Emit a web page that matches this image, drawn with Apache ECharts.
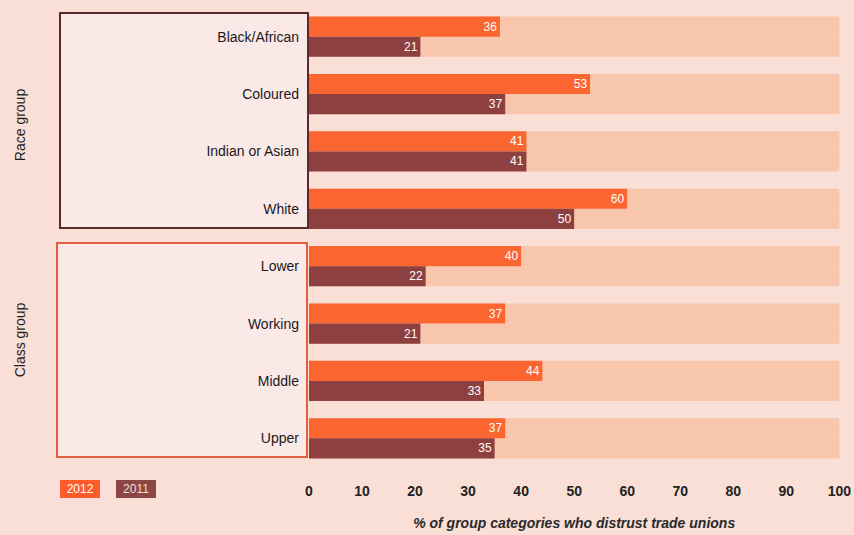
<!DOCTYPE html>
<html>
<head>
<meta charset="utf-8">
<script src="https://cdn.jsdelivr.net/npm/echarts@6/dist/echarts.min.js"></script>
<style>
html,body{margin:0;padding:0;background:#f9dfd6;}
#c{width:854px;height:535px;}
</style>
</head>
<body>
<div id="c"></div>
<script>
const categories = ['Black/African','Coloured','Indian or Asian','White','Lower','Working','Middle','Upper'];
const values2012 = [36, 53, 41, 60, 40, 37, 44, 37];
const values2011 = [21, 37, 41, 50, 22, 21, 33, 35];
const xTicks = [0,10,20,30,40,50,60,70,80,90,100];
const groupNames = ['Race group','Class group'];
const seriesNames = ['2012','2011'];

const FONT = "'Liberation Sans Narrow','Liberation Sans',Arial,sans-serif";
const chart = echarts.init(document.getElementById('c'), null, {renderer:'svg'});

const labelCfg = {
  show:true, position:'insideRight', distance:3,
  color:'#ffffff', fontSize:12, fontFamily:FONT
};
const bg = {color:'#f8c5ad'};

chart.setOption({
  backgroundColor:'#f9dfd6',
  animation:false,
  grid:{left:309, right:12, top:8, bottom:67},
  xAxis:{
    type:'value', min:xTicks[0], max:xTicks[xTicks.length-1], interval:10,
    axisLine:{show:false}, axisTick:{show:false}, splitLine:{show:false},
    axisLabel:{margin:17, color:'#222', fontWeight:'bold', fontSize:14, fontFamily:FONT},
    name:'% of group categories who distrust trade unions',
    nameLocation:'middle', nameGap:49,
    nameTextStyle:{color:'#2a2a2a', fontWeight:'bold', fontStyle:'italic', fontSize:14, fontFamily:'Liberation Sans, Arial, sans-serif'}
  },
  yAxis:{
    type:'category', data:categories, inverse:true,
    axisLine:{show:false}, axisTick:{show:false},
    axisLabel:{margin:10, color:'#1a1a1a', fontSize:14, fontFamily:FONT}
  },
  series:[
    {name:seriesNames[0], type:'bar', data:values2012, barGap:'0%', barCategoryGap:'30%',
     itemStyle:{color:'#fb6630'}, label:labelCfg, showBackground:true, backgroundStyle:bg, z:3},
    {name:seriesNames[1], type:'bar', data:values2011,
     itemStyle:{color:'#8e4040'}, label:labelCfg, showBackground:true, backgroundStyle:bg, z:3}
  ],
  graphic:[
    {type:'rect', z:-1, shape:{x:60,y:13,width:248,height:215},
     style:{fill:'#fbe9e8', stroke:'#5a2b2b', lineWidth:2}},
    {type:'rect', z:-1, shape:{x:57,y:243,width:250,height:214},
     style:{fill:'#fbe9e8', stroke:'#e2603f', lineWidth:2}},
    {type:'text', x:20, y:125, rotation:Math.PI/2,
     style:{text:groupNames[0], fill:'#1e1e1e', fontSize:14, fontFamily:FONT, align:'center', verticalAlign:'middle'}},
    {type:'text', x:20, y:340, rotation:Math.PI/2,
     style:{text:groupNames[1], fill:'#1e1e1e', fontSize:14, fontFamily:FONT, align:'center', verticalAlign:'middle'}},
    {type:'rect', shape:{x:60,y:480,width:40,height:18}, style:{fill:'#fe5a2c'}},
    {type:'text', x:80, y:489, style:{text:seriesNames[0], fill:'#fff', fontSize:12, fontFamily:FONT, align:'center', verticalAlign:'middle'}},
    {type:'rect', shape:{x:116,y:480,width:40,height:18}, style:{fill:'#8c4646'}},
    {type:'text', x:136, y:489, style:{text:seriesNames[1], fill:'#f3dede', fontSize:12, fontFamily:FONT, align:'center', verticalAlign:'middle'}}
  ]
});
</script>
</body>
</html>
